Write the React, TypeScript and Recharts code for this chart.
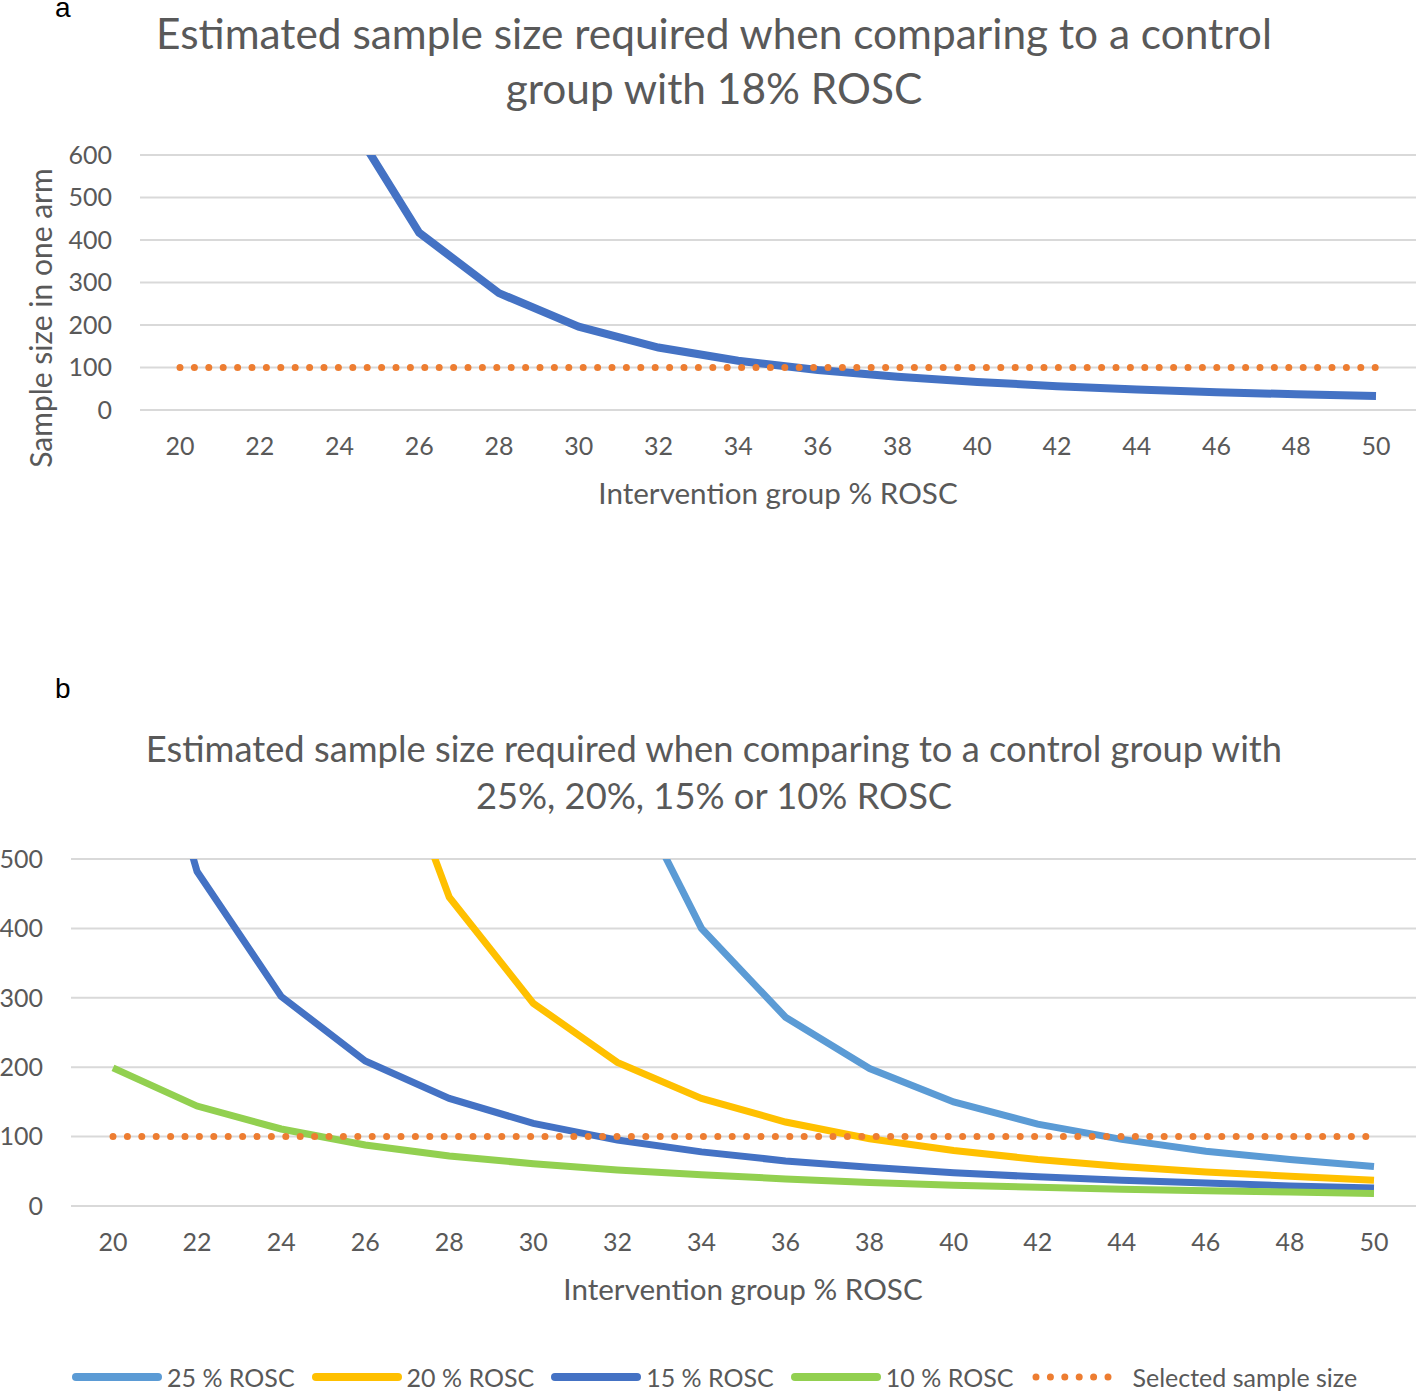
import React from 'react';
import { LineChart, Line, XAxis, YAxis, CartesianGrid } from 'recharts';

// x categories (intervention group % ROSC)
const ROSC_PCT = [20, 22, 24, 26, 28, 30, 32, 34, 36, 38, 40, 42, 44, 46, 48, 50];

// panel a: control group 18% ROSC
const CONTROL_18 = [6030, 1565, 719, 417, 275, 196, 147, 116, 94, 78, 66, 56, 48, 42, 37, 33];
const SELECTED_A = [100, 100, 100, 100, 100, 100, 100, 100, 100, 100, 100, 100, 100, 100, 100, 100];

// panel b: control groups 25/20/15/10% ROSC
const CONTROL_25 = [null, null, null, 30000, 3400, 1250, 640, 400, 272, 198, 150, 118, 96, 79, 67, 57];
const CONTROL_20 = [null, 6500, 1680, 770, 445, 292, 207, 155, 121, 97, 80, 67, 57, 49, 43, 37];
const CONTROL_15 = [900, 482, 302, 209, 155, 119, 95, 78, 65, 56, 48, 42, 37, 33, 29, 26];
const CONTROL_10 = [199, 144, 111, 88, 72, 61, 52, 45, 39, 34, 30, 27, 24, 22, 20, 18];
const SELECTED_B = [100, 100, 100, 100, 100, 100, 100, 100, 100, 100, 100, 100, 100, 100, 100, 100];

const TICKS_A = [0, 100, 200, 300, 400, 500, 600];
const TICKS_B = [0, 100, 200, 300, 400, 500];

const dataA = ROSC_PCT.map((x, i) => ({ x, rosc18: CONTROL_18[i], selected: SELECTED_A[i] }));
const dataB = ROSC_PCT.map((x, i) => ({
  x,
  rosc25: CONTROL_25[i],
  rosc20: CONTROL_20[i],
  rosc15: CONTROL_15[i],
  rosc10: CONTROL_10[i],
  selected: SELECTED_B[i],
}));

const FONT = 'Lato, "Open Sans", sans-serif';
const GREY = '#595959';
const tickStyle = { fill: GREY, fontSize: 25, fontFamily: FONT };

const LEGEND = [
  { name: '25 % ROSC', color: '#5B9BD5', dotted: false },
  { name: '20 % ROSC', color: '#FFC000', dotted: false },
  { name: '15 % ROSC', color: '#4472C4', dotted: false },
  { name: '10 % ROSC', color: '#92D050', dotted: false },
  { name: 'Selected sample size', color: '#ED7D31', dotted: true },
];

const abs = (top: number, left: number, extra: React.CSSProperties = {}): React.CSSProperties => ({
  position: 'absolute',
  top,
  left,
  fontFamily: FONT,
  color: GREY,
  whiteSpace: 'nowrap',
  ...extra,
});

export default function App() {
  return (
    <div style={{ position: 'absolute', top: 0, left: 0, width: 1416, height: 1391, background: '#fff', overflow: 'hidden' }}>
      {/* panel a */}
      <div style={abs(-6, 55, { color: '#000', fontSize: 28, lineHeight: '28px', fontFamily: 'Liberation Sans, Arial, sans-serif' })}>a</div>
      <div style={abs(5, 0, { width: 1428, textAlign: 'center', fontSize: 42.4, lineHeight: '55px' })}>
        Estimated sample size required when comparing to a control
        <br />
        group with 18% ROSC
      </div>
      <div style={abs(0, 0)}>
        <LineChart width={1416} height={520} data={dataA} margin={{ top: 155, right: 0, left: 80, bottom: 50 }}>
          <CartesianGrid vertical={false} stroke="#D9D9D9" strokeWidth={2} />
          <XAxis dataKey="x" type="category" interval={0} padding={{ left: 40, right: 40 }} height={60} axisLine={false} tickLine={false} tickSize={0} tickMargin={27} tick={tickStyle} />
          <YAxis domain={[0, 600]} ticks={TICKS_A} allowDataOverflow width={60} axisLine={false} tickLine={false} tickSize={0} tickMargin={28} tick={tickStyle} />
          <Line dataKey="rosc18" type="linear" stroke="#4472C4" strokeWidth={8} dot={false} isAnimationActive={false} />
          <Line dataKey="selected" type="linear" stroke="#ED7D31" strokeWidth={7} strokeDasharray="0 14.4" strokeLinecap="round" dot={false} isAnimationActive={false} />
        </LineChart>
      </div>
      <div style={abs(476, 478, { width: 600, textAlign: 'center', fontSize: 29.6, lineHeight: '34px' })}>
        Intervention group % ROSC
      </div>
      <div style={abs(301, -160, { width: 400, textAlign: 'center', fontSize: 30, lineHeight: '34px', transform: 'rotate(-90deg)' })}>
        Sample size in one arm
      </div>

      {/* panel b */}
      <div style={abs(675, 55, { color: '#000', fontSize: 28, lineHeight: '28px', fontFamily: 'Liberation Sans, Arial, sans-serif' })}>b</div>
      <div style={abs(725, 0, { width: 1428, textAlign: 'center', fontSize: 36.3, lineHeight: '47px' })}>
        Estimated sample size required when comparing to a control group with
        <br />
        25%, 20%, 15% or 10% ROSC
      </div>
      <div style={abs(700, 0)}>
        <LineChart width={1416} height={691} data={dataB} margin={{ top: 159, right: 0, left: 11, bottom: 125 }}>
          <CartesianGrid vertical={false} stroke="#D9D9D9" strokeWidth={2} />
          <XAxis dataKey="x" type="category" interval={0} padding={{ left: 42, right: 42 }} height={60} axisLine={false} tickLine={false} tickSize={0} tickMargin={27} tick={tickStyle} />
          <YAxis domain={[0, 500]} ticks={TICKS_B} allowDataOverflow width={60} axisLine={false} tickLine={false} tickSize={0} tickMargin={28} tick={tickStyle} />
          <Line dataKey="rosc25" type="linear" stroke="#5B9BD5" strokeWidth={7} dot={false} isAnimationActive={false} />
          <Line dataKey="rosc20" type="linear" stroke="#FFC000" strokeWidth={7} dot={false} isAnimationActive={false} />
          <Line dataKey="rosc15" type="linear" stroke="#4472C4" strokeWidth={7} dot={false} isAnimationActive={false} />
          <Line dataKey="rosc10" type="linear" stroke="#92D050" strokeWidth={7} dot={false} isAnimationActive={false} />
          <Line dataKey="selected" type="linear" stroke="#ED7D31" strokeWidth={7} strokeDasharray="0 14.4" strokeLinecap="round" dot={false} isAnimationActive={false} />
        </LineChart>
      </div>
      <div style={abs(1272, 443, { width: 600, textAlign: 'center', fontSize: 29.6, lineHeight: '34px' })}>
        Intervention group % ROSC
      </div>

      {/* legend */}
      <div style={abs(1360, 72, { display: 'flex', alignItems: 'center', fontSize: 25, lineHeight: '34px' })}>
        {LEGEND.map((item) => (
          <div key={item.name} style={{ display: 'flex', alignItems: 'center', marginRight: 17 }}>
            <svg width={item.dotted ? 84 : 90} height={12} style={{ marginRight: item.dotted ? 18 : 5 }}>
              <line
                x1={item.dotted ? 6 : 4}
                y1={6}
                x2={item.dotted ? 78 : 86}
                y2={6}
                stroke={item.color}
                strokeWidth={item.dotted ? 7 : 8}
                strokeLinecap="round"
                strokeDasharray={item.dotted ? '0 14.4' : undefined}
              />
            </svg>
            <span>{item.name}</span>
          </div>
        ))}
      </div>
    </div>
  );
}
